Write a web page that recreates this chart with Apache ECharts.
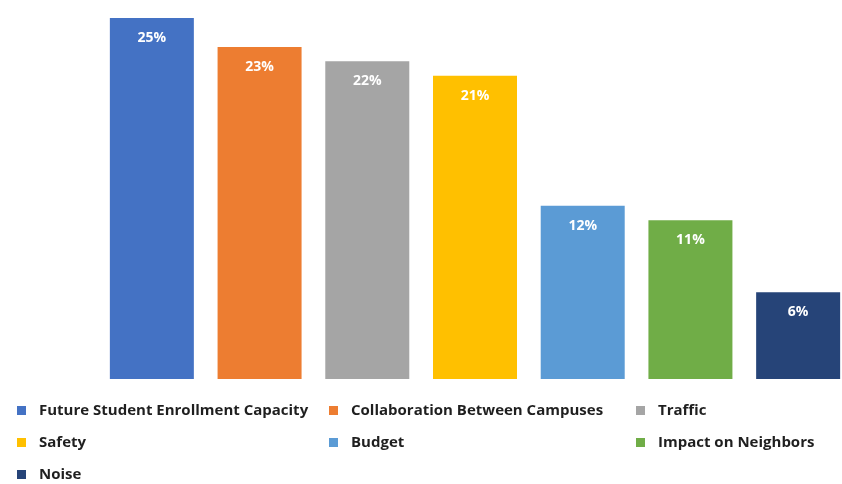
<!DOCTYPE html>
<html>
<head>
<meta charset="utf-8">
<style>
  html, body { margin: 0; padding: 0; background: #ffffff; overflow: hidden; }
  #chart { width: 862px; height: 484px; }
</style>
<script src="https://cdn.jsdelivr.net/npm/echarts@6/dist/echarts.min.js"></script>
</head>
<body>
<div id="chart"></div>
<script>
// Share of responses by priority (percent)
const categories = [
  'Future Student Enrollment Capacity',
  'Collaboration Between Campuses',
  'Traffic',
  'Safety',
  'Budget',
  'Impact on Neighbors',
  'Noise'
];
const values = [25, 23, 22, 21, 12, 11, 6];
const colors = ['#4472C4', '#ED7D31', '#A5A5A5', '#FFC000', '#5B9BD5', '#70AD47', '#264478'];

// Legend columns (indices into categories)
const legendColumns = [[0, 3, 6], [1, 4], [2, 5]];

const chart = echarts.init(document.getElementById('chart'));
const FONT = '"Open Sans", "Liberation Sans", Arial, sans-serif';

// One series per category so each gets its own legend entry; a shared stack keeps bars centred.
const series = categories.map((name, i) => ({
  name: name,
  type: 'bar',
  stack: 'all',
  barWidth: 84,
  itemStyle: { color: colors[i] },
  label: {
    show: true,
    position: 'insideTop',
    distance: 13,
    color: '#ffffff',
    fontFamily: FONT,
    fontWeight: 'bold',
    fontSize: 14,
    formatter: p => p.value + '%'
  },
  data: categories.map((_, j) => (j === i ? values[i] : null))
}));

const legendLefts = [17, 329, 636];
const legends = legendColumns.map((col, k) => ({
  orient: 'vertical',
  left: legendLefts[k],
  top: 401,
  padding: 0,
  itemWidth: 9,
  itemHeight: 9,
  itemGap: 13,
  icon: 'rect',
  textStyle: {
    fontFamily: FONT,
    fontWeight: 'bold',
    fontSize: 15,
    color: '#1f1f1f',
    lineHeight: 19,
    padding: [0, 0, 0, 8]
  },
  data: col.map(i => categories[i])
}));

chart.setOption({
  animation: false,
  backgroundColor: '#ffffff',
  grid: { left: 98, right: 10, top: 18, bottom: 105, containLabel: false },
  legend: legends,
  xAxis: {
    type: 'category',
    data: categories,
    axisLine: { show: false },
    axisTick: { show: false },
    axisLabel: { show: false }
  },
  yAxis: {
    type: 'value',
    min: 0,
    max: 25,
    show: false,
    splitLine: { show: false }
  },
  series: series
});
</script>
</body>
</html>
